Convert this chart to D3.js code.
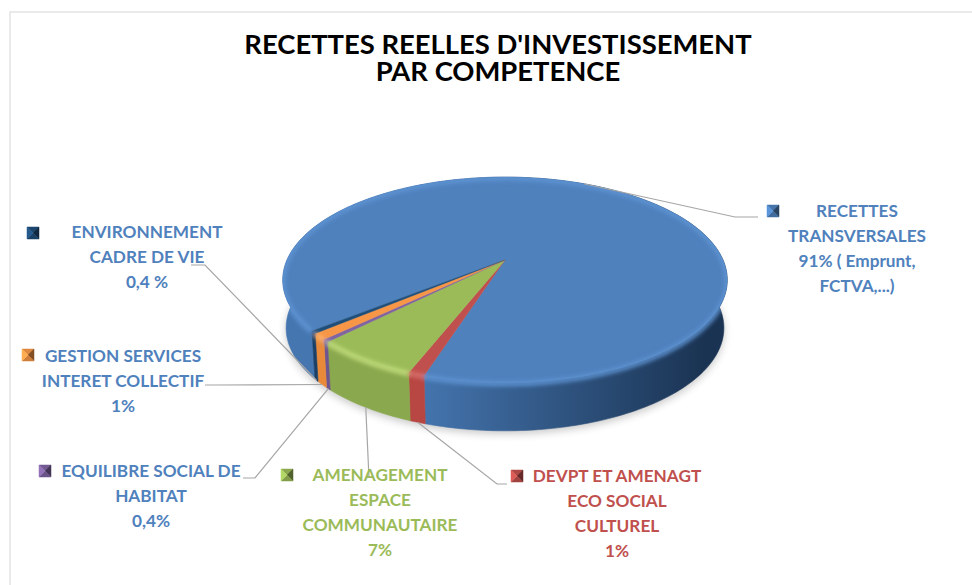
<!DOCTYPE html>
<html><head><meta charset="utf-8">
<script src="https://cdn.jsdelivr.net/npm/d3@7"></script>
<style>html,body{margin:0;background:#fff}svg{display:block}text{font-family:Lato,"Open Sans",sans-serif;font-weight:700}</style>
</head><body><svg id="c" width="972" height="585"></svg>
<script>
const categories=["RECETTES TRANSVERSALES","DEVPT ET AMENAGT ECO SOCIAL CULTUREL","AMENAGEMENT ESPACE COMMUNAUTAIRE","EQUILIBRE SOCIAL DE HABITAT","GESTION SERVICES INTERET COLLECTIF","ENVIRONNEMENT CADRE DE VIE"];
const values=[91,1,6.5,0.4,1,0.4];
const labelLines=[["RECETTES","TRANSVERSALES","91% ( Emprunt,","FCTVA,...)"],["DEVPT ET AMENAGT","ECO SOCIAL","CULTUREL","1%"],["AMENAGEMENT","ESPACE","COMMUNAUTAIRE","7%"],["EQUILIBRE SOCIAL DE","HABITAT","0,4%"],["GESTION SERVICES","INTERET COLLECTIF","1%"],["ENVIRONNEMENT","CADRE DE VIE","0,4 %"]];
const titleLines=["RECETTES REELLES D'INVESTISSEMENT","PAR COMPETENCE"];

const topCols=["#4f81bd","#c0504d","#9bbb59","#8064a2","#f79646","#1f4e79"];
const rimCols=["#5f94d4","#d9706c","#c4e07e","#9f86c2","#ffb46c","#2f6498"];
const sideL=["#4576b0","#b84643","#8aa84d","#6f558f","#e88a3a","#1b4068"];
const sideR=["#1a3352","#8a2f2d","#6b8639","#55406f","#b96a2a","#122c48"];
const textCols=["#4f81bd","#c0504d","#9bbb59","#4f81bd","#4f81bd","#4f81bd"];
const labelX=[857,617,380,151,123,147];
const labelY=[217,482,481,477,362,238];
const keyX=[767,511,281,39,22,27];
const keyY=[205,470,469,465,349,227];
// leader: [slice, angle offset in radians, on the side's foot?], elbow, end
const leaderPts=[[[0,-0.16,0],[735,217],[758,217]],[[1,0,1],[497,484],[507,484]],[[2,0,1],[369,478],[369,478]],[[3,0,1],[255,478],[243,478]],[[4,0,1],[215,385],[205,385]],[[5,0,1],[205,265],[191,265]]];

const svg=d3.select("#c");
const defs=svg.append("defs");
const cx=505,cy=260,Rx=218,Ry=99,P=0.194,depth=48,footScale=0.985,leftX=282,rightX=728;
const proj=(a,r)=>{const u=r*Math.sin(a),v=-r*Math.cos(a),w=1-P*v;return [cx+Rx*u/w,cy+Ry*v/w];};
const foot=a=>{const p=proj(a,1);return [cx+(p[0]-cx)*footScale,p[1]+depth];};
const deg=Math.PI/180;
const start=231*deg;
const arcs=d3.pie().sort(null).value(d=>d).startAngle(start).endAngle(start+2*Math.PI)(values);
const line=d3.line();
const samples=(a0,a1)=>{const n=Math.max(2,Math.ceil(Math.abs(a1-a0)/(1*deg)));return d3.range(n+1).map(i=>a0+(a1-a0)*i/n);};

// frame
svg.append("path").attr("d",line([[10,585],[10,12],[972,12]])).attr("fill","none").attr("stroke","#e3e3e3").attr("stroke-width",1.5);

// title
svg.append("g").selectAll("text").data(titleLines).join("text").attr("x",498).attr("y",(d,i)=>54+i*26.5).attr("text-anchor","middle").attr("font-size",27.4).attr("fill","#000").text(d=>d);

// filters & gradients
defs.append("filter").attr("id","sh").attr("x","-20%").attr("y","-20%").attr("width","140%").attr("height","140%").append("feGaussianBlur").attr("stdDeviation",4);
defs.append("filter").attr("id","rim").attr("x","-10%").attr("y","-10%").attr("width","120%").attr("height","120%").append("feGaussianBlur").attr("stdDeviation",2);
values.forEach((v,i)=>{const g=defs.append("linearGradient").attr("id","s"+i).attr("gradientUnits","userSpaceOnUse").attr("x1",leftX).attr("x2",rightX).attr("y1",0).attr("y2",0);
 g.append("stop").attr("offset",0).attr("stop-color",sideL[i]);
 g.append("stop").attr("offset",0.3).attr("stop-color",sideL[i]);
 g.append("stop").attr("offset",0.95).attr("stop-color",sideR[i]);});

// shadow
const all=samples(0,2*Math.PI);
svg.append("path").attr("d",line(all.map(a=>{const p=foot(a);return [p[0],p[1]+3];}))+"Z").attr("fill","#000").attr("opacity",0.22).attr("filter","url(#sh)");

// sides
const sides=svg.append("g");
arcs.forEach((d,i)=>{const s=samples(d.startAngle,d.endAngle),t=s.map(a=>proj(a,1)),b=s.map(foot).reverse();
 sides.append("path").attr("d",line(t.concat(b))+"Z").attr("fill",`url(#s${i})`).attr("stroke",`url(#s${i})`).attr("stroke-width",0.6);});

// top faces
const tops=svg.append("g");
arcs.forEach((d,i)=>{const s=samples(d.startAngle,d.endAngle).map(a=>proj(a,1));
 tops.append("path").attr("d",line([[cx,cy]].concat(s))+"Z").attr("fill",topCols[i]).attr("stroke",topCols[i]).attr("stroke-width",0.4);});

// bevel rim, kept inside the pie's silhouette
const clip=defs.append("clipPath").attr("id","body");
clip.append("path").attr("d",line(all.map(a=>proj(a,1)))+"Z");
clip.append("path").attr("d",line(all.map(foot))+"Z");
arcs.forEach(d=>{const s=samples(d.startAngle,d.endAngle);clip.append("path").attr("d",line(s.map(a=>proj(a,1)).concat(s.map(foot).reverse()))+"Z");});
const rims=svg.append("g").attr("clip-path","url(#body)").append("g").attr("filter","url(#rim)");
arcs.forEach((d,i)=>{rims.append("path").attr("d",line(samples(d.startAngle,d.endAngle).map(a=>{const p=proj(a,1);return [p[0],p[1]+1];}))).attr("fill","none").attr("stroke",rimCols[i]).attr("stroke-width",4.5);});

// leaders
const leaders=svg.append("g");
leaderPts.forEach(l=>{const d=arcs[l[0][0]],mid=(d.startAngle+d.endAngle)/2+l[0][1];
 const s=l[0][2]?foot(mid):proj(mid,1);
 leaders.append("path").attr("d",line([s,l[1],l[2]])).attr("fill","none").attr("stroke","#a6a6a6").attr("stroke-width",1.2);});

// labels
labelLines.forEach((ls,i)=>{svg.append("g").selectAll("text").data(ls).join("text").attr("x",labelX[i]).attr("y",(d,j)=>labelY[i]+j*25).attr("text-anchor","middle").attr("font-size",17.2).attr("fill",textCols[i]).text(d=>d);
 const x=keyX[i],y=keyY[i],k=12,g=svg.append("g"),c=[x+k/2,y+k/2];
 const cs=d3.color(topCols[i]);
 [[[x,y],[x+k,y],cs.darker(0.3)],[[x+k,y],[x+k,y+k],cs.darker(1.8)],[[x+k,y+k],[x,y+k],cs.darker(0.5)],[[x,y+k],[x,y],cs.brighter(0.4)]].forEach(t=>{
  g.append("path").attr("d",line([t[0],t[1],c])+"Z").attr("fill",t[2]).attr("stroke",t[2]).attr("stroke-width",0.5);});
});
</script></body></html>
